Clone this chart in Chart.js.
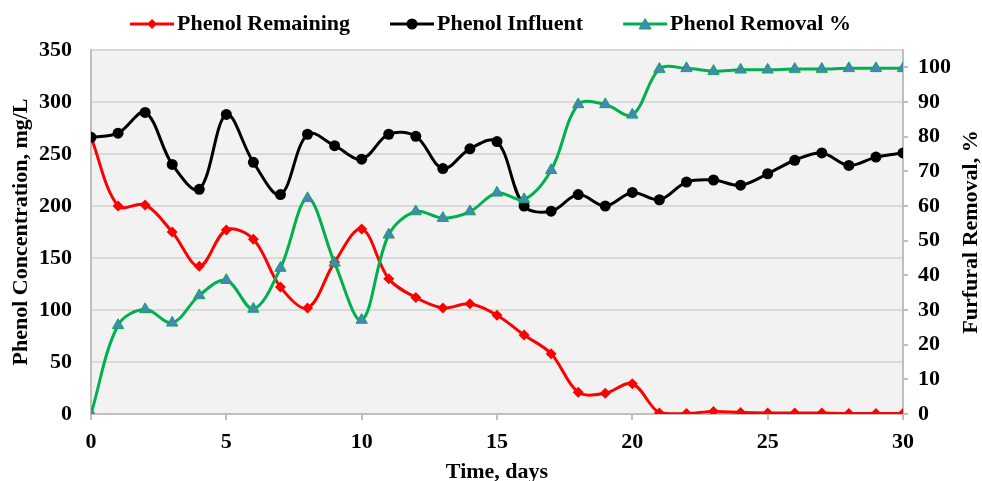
<!DOCTYPE html>
<html>
<head>
<meta charset="utf-8">
<script src="https://cdn.jsdelivr.net/npm/chart.js@4.4.1/dist/chart.umd.min.js"></script>
<style>
  html, body { margin: 0; padding: 0; background: #fff; }
  #wrap { width: 982px; height: 481px; }
</style>
</head>
<body>
<div id="wrap"><canvas id="chart"></canvas></div>
<script>
// days of the run
const days = [0, 1, 2, 3, 4, 5, 6, 7, 8, 9, 10, 11, 12, 13, 14, 15,
  16, 17, 18, 19, 20, 21, 22, 23, 24, 25, 26, 27, 28, 29, 30];

// phenol remaining, mg/L
const remaining = [266, 200, 201, 175, 142, 177, 168, 122, 102, 146, 178, 130, 112, 102, 106, 95,
  76, 58, 21, 20, 29, 1, 0.5, 2.5, 1.5, 1, 1, 1, 0.5, 0.5, 0.5];

// phenol influent, mg/L
const influent = [266, 270, 290, 240, 216, 288, 242, 211, 269, 258, 245, 269, 267, 236, 255, 262,
  200, 195, 211, 200, 213, 206, 223, 225, 220, 231, 244, 251, 239, 247, 251];

// phenol removal, %
const removal = [0, 25.6, 30.2, 26.3, 34.2, 38.6, 30.3, 42.1, 62.2, 43.6, 27.1, 51.7, 58.4, 56.5, 58.4, 63.8,
  61.9, 70.3, 89.3, 89.3, 86.3, 99.5, 99.7, 98.9, 99.3, 99.3, 99.5, 99.5, 99.7, 99.7, 99.7];

// right axis tick values
const rightTicks = [0, 10, 20, 30, 40, 50, 60, 70, 80, 90, 100];

const leftTitle = 'Phenol Concentration, mg/L';
const rightTitle = 'Furfural Removal, %';
const xTitle = 'Time, days';

const FONT = "'Liberation Serif', 'Times New Roman', serif";
const GREEN = '#00B050';
const BLUE = '#4F81BD';

function pts(arr) {
    return days.map(function (d, i) { return { x: d, y: arr[i] }; });
}

// legend icon: line with the marker in the middle
function legendIcon(color, style, fill) {
    const c = document.createElement('canvas');
    c.width = 80;
    c.height = 14;
    const g = c.getContext('2d');
    g.strokeStyle = color;
    g.lineWidth = 3;
    g.beginPath();
    g.moveTo(36, 7);
    g.lineTo(80, 7);
    g.stroke();
    g.fillStyle = fill;
    g.beginPath();
    if (style === 'rectRot') {
        g.moveTo(58, 2); g.lineTo(63, 7); g.lineTo(58, 12); g.lineTo(53, 7);
    } else if (style === 'circle') {
        g.arc(58, 7, 5.5, 0, Math.PI * 2);
    } else {
        g.moveTo(58, 1.5); g.lineTo(64, 12); g.lineTo(52, 12);
    }
    g.closePath();
    g.fill();
    if (style === 'triangle') {
        g.strokeStyle = GREEN;
        g.lineWidth = 1;
        g.stroke();
    }
    return c;
}

const icons = [
    legendIcon('#FF0000', 'rectRot', '#FF0000'),
    legendIcon('#000000', 'circle', '#000000'),
    legendIcon(GREEN, 'triangle', BLUE)
];

const plotBackground = {
    id: 'plotBackground',
    beforeDraw(chart) {
        const a = chart.chartArea;
        const ctx = chart.ctx;
        ctx.save();
        ctx.fillStyle = '#F2F2F2';
        ctx.fillRect(a.left, a.top, a.right - a.left, a.bottom - a.top);
        ctx.restore();
    }
};

// pull the legend up a little, the plot keeps its place
const legendLift = {
    id: 'legendLift',
    afterLayout(chart) {
        if (chart.legend) {
            chart.legend.top -= 5;
            chart.legend.bottom -= 5;
        }
    }
};

// right axis title reads bottom to top, like the left one
const rightAxisTitle = {
    id: 'rightAxisTitle',
    afterDraw(chart) {
        const a = chart.chartArea;
        const ctx = chart.ctx;
        ctx.save();
        ctx.translate(971, (a.top + a.bottom) / 2);
        ctx.rotate(-Math.PI / 2);
        ctx.font = 'bold 22px ' + FONT;
        ctx.fillStyle = '#000';
        ctx.textAlign = 'center';
        ctx.textBaseline = 'middle';
        ctx.fillText(rightTitle, 0, 0);
        ctx.restore();
    }
};

const tickFont = { family: FONT, size: 22, weight: 'bold' };

new Chart(document.getElementById('chart'), {
    type: 'line',
    data: {
        datasets: [{
            label: 'Phenol Remaining',
            data: pts(remaining),
            yAxisID: 'y',
            borderColor: '#FF0000',
            backgroundColor: '#FF0000',
            borderWidth: 3,
            pointStyle: 'rectRot',
            pointRadius: 5.5,
            pointBorderWidth: 0,
            tension: 0.35,
            order: 2
        }, {
            label: 'Phenol Influent',
            data: pts(influent),
            yAxisID: 'y',
            borderColor: '#000000',
            backgroundColor: '#000000',
            borderWidth: 3,
            pointStyle: 'circle',
            pointRadius: 5.5,
            pointBorderWidth: 0,
            tension: 0.35,
            order: 1
        }, {
            label: 'Phenol Removal %',
            data: pts(removal),
            yAxisID: 'y2',
            borderColor: GREEN,
            backgroundColor: BLUE,
            borderWidth: 3,
            pointStyle: 'triangle',
            pointRadius: 6.5,
            pointBorderWidth: 1,
            pointBorderColor: GREEN,
            tension: 0.35,
            order: 0
        }]
    },
    options: {
        responsive: true,
        maintainAspectRatio: false,
        animation: false,
        layout: { padding: { top: 0, left: 0, right: 29, bottom: 0 } },
        plugins: {
            tooltip: { enabled: false },
            legend: {
                display: true,
                position: 'top',
                labels: {
                    usePointStyle: true,
                    pointStyleWidth: 64,
                    padding: 12,
                    color: '#000',
                    font: tickFont,
                    sort: function (a, b) { return a.datasetIndex - b.datasetIndex; },
                    generateLabels: function (chart) {
                        const items = Chart.defaults.plugins.legend.labels.generateLabels(chart);
                        items.forEach(function (it) { it.pointStyle = icons[it.datasetIndex]; });
                        return items;
                    }
                }
            }
        },
        scales: {
            x: {
                type: 'linear',
                min: 0,
                max: 30,
                ticks: { stepSize: 5, color: '#000', font: tickFont, padding: 9, maxRotation: 0 },
                grid: { drawOnChartArea: false, drawTicks: true, tickLength: 6, color: '#BFBFBF', lineWidth: 2 },
                border: { color: '#BFBFBF', width: 2 },
                title: {
                    display: true, text: xTitle, color: '#000',
                    font: { family: FONT, size: 22, weight: 'bold', lineHeight: 0.82 },
                    padding: { top: 0, bottom: 0 }
                },
                afterFit: function (scale) { scale.height = 67; }
            },
            y: {
                position: 'left',
                min: 0,
                max: 350,
                ticks: { stepSize: 50, color: '#000', font: tickFont, padding: 19 },
                grid: { color: '#D9D9D9', lineWidth: 2, drawTicks: false },
                border: { color: '#BFBFBF', width: 2 },
                title: {
                    display: true, text: leftTitle, color: '#000',
                    font: { family: FONT, size: 22, weight: 'bold' },
                    padding: { top: 8, bottom: 0 }
                },
                afterFit: function (scale) {
                    scale.width = 91;
                    scale.paddingTop = 50;
                }
            },
            y2: {
                position: 'right',
                min: 0,
                max: 105,
                ticks: { color: '#000', font: tickFont, padding: 10 },
                grid: { drawOnChartArea: false, drawTicks: true, tickLength: 5, color: '#BFBFBF', lineWidth: 2 },
                border: { color: '#BFBFBF', width: 2 },
                afterBuildTicks: function (scale) {
                    scale.ticks = rightTicks.map(function (v) { return { value: v }; });
                },
                afterFit: function (scale) { scale.width = 50; }
            }
        }
    },
    plugins: [plotBackground, legendLift, rightAxisTitle]
});
</script>
</body>
</html>
